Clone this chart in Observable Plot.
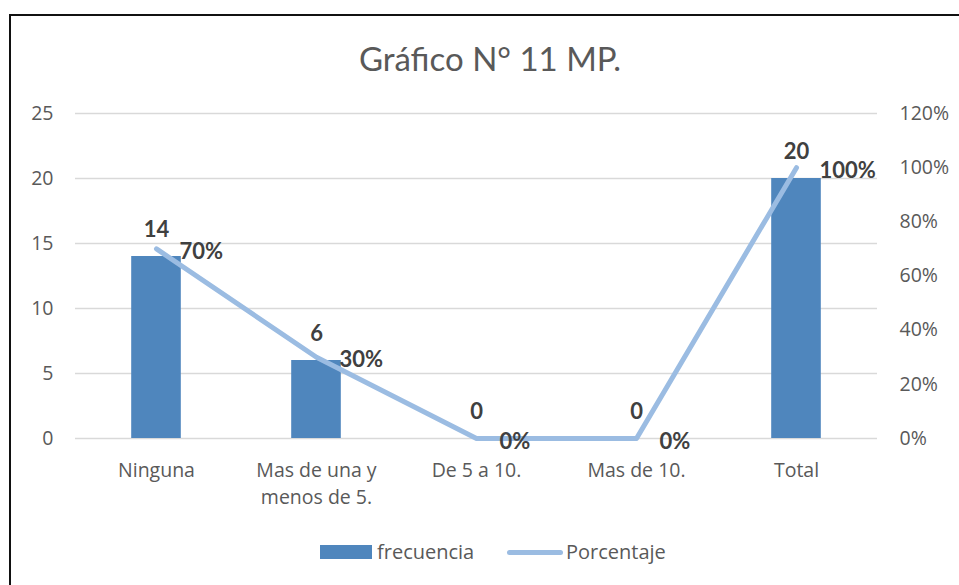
<!DOCTYPE html>
<html>
<head>
<meta charset="utf-8">
<script src="https://cdn.jsdelivr.net/npm/d3@7"></script>
<script src="https://cdn.jsdelivr.net/npm/@observablehq/plot@0.6"></script>
<style>
  html, body { margin: 0; padding: 0; background: #fff; }
  body { width: 959px; height: 585px; position: relative; overflow: hidden; font-family: "Open Sans", Lato, sans-serif; }
  #frame { position: absolute; left: 9px; top: 14px; width: 1000px; height: 1000px; border-left: 2px solid #111; border-top: 2px solid #111; box-sizing: border-box; }
  #title { position: absolute; left: 0; width: 980px; top: 40px; text-align: center; font-family: Lato, sans-serif; font-size: 33px; color: #595959; line-height: 36px; }
  #chart { position: absolute; left: 0; top: 90px; }
  #legend { position: absolute; top: 540px; left: 0; width: 959px; height: 24px; }
  .sw { position: absolute; }
  .lt { position: absolute; font-size: 20px; color: #595959; line-height: 24px; top: 0; }
</style>
</head>
<body>
<div id="frame"></div>
<div id="title">Gráfico N° 11 MP.</div>
<div id="chart"></div>
<div id="legend">
  <div class="sw" style="left:320px; top:5px; width:52px; height:14px; background:#4f86bd;"></div>
  <div class="lt" style="left:377px;">frecuencia</div>
  <div class="sw" style="left:507px; top:10px; width:56px; height:5px; border-radius:3px; background:#9bbce2;"></div>
  <div class="lt" style="left:566px;">Porcentaje</div>
</div>
<script>
const categories = ["Ninguna", "Mas de una y\nmenos de 5.", "De 5 a 10.", "Mas de 10.", "Total"];
const frecuencia = [14, 6, 0, 0, 20];
const porcentaje = [70, 30, 0, 0, 100];
const leftTicks = [0, 5, 10, 15, 20, 25];
const rightTicks = [0, 20, 40, 60, 80, 100, 120];

const leftMax = 25, rightMax = 120;
const toLeft = p => p * leftMax / rightMax;

const data = categories.map((c, i) => ({cat: c, f: frecuencia[i], p: porcentaje[i]}));

const chart = Plot.plot({
  width: 959,
  height: 440,
  marginTop: 23,
  marginBottom: 92,
  marginLeft: 75,
  marginRight: 82,
  style: {fontFamily: "'Open Sans', Lato, sans-serif", background: "transparent"},
  x: {domain: categories, padding: 0},
  y: {domain: [0, leftMax]},
  marks: [
    Plot.gridY(leftTicks, {stroke: "#d9d9d9", strokeOpacity: 1, strokeWidth: 1.5}),
    Plot.axisY(leftTicks, {anchor: "left", tickSize: 0, tickPadding: 22, fontSize: 19.5, color: "#595959", label: null}),
    Plot.axisY(rightTicks.map(toLeft), {anchor: "right", tickSize: 0, tickPadding: 22, fontSize: 19.5, color: "#595959", label: null, textAnchor: "start",
      tickFormat: v => Math.round(v * rightMax / leftMax) + "%"}),
    Plot.axisX({tickSize: 0, tickPadding: 19, fontSize: 19.5, color: "#595959", label: null, lineHeight: 1.38, textAnchor: "middle"}),
    Plot.barY(data, {x: "cat", y: "f", fill: "#4f86bd", insetLeft: 55.2, insetRight: 55.2}),
    Plot.line(data, {x: "cat", y: d => toLeft(d.p), stroke: "#9bbce2", strokeWidth: 5, strokeLinecap: "round", strokeLinejoin: "round"}),
    Plot.text(data, {x: "cat", y: "f", text: d => String(d.f), dy: -27, fontSize: 22, fontWeight: "bold", fill: "#404040", fontFamily: "Lato, sans-serif"}),
    Plot.text(data, {x: "cat", y: d => toLeft(d.p), text: d => d.p + "%", dx: 23, dy: 3, textAnchor: "start", fontSize: 22, fontWeight: "bold", fill: "#404040", fontFamily: "Lato, sans-serif"})
  ]
});
document.getElementById("chart").appendChild(chart);
</script>
</body>
</html>
